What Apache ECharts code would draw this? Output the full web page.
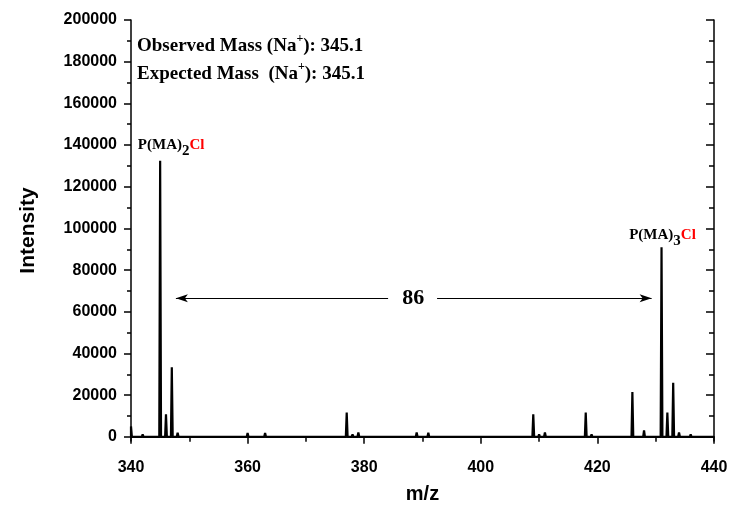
<!DOCTYPE html>
<html>
<head>
<meta charset="utf-8">
<script src="https://cdn.jsdelivr.net/npm/echarts@6/dist/echarts.min.js"></script>
<style>
  html, body { margin: 0; padding: 0; background: #fff; }
  #chart { width: 731px; height: 507px; }
</style>
</head>
<body>
<div id="chart"></div>
<script>
// Stick spectrum: peak positions (m/z) and their intensities
const peakMz = [340, 341, 342, 343, 345, 346, 347, 348, 349, 350, 352, 354, 355, 357, 360, 363, 366, 368, 370, 373,
  377, 378, 379, 380, 383, 386, 387, 389, 391, 393, 395, 397, 399, 402, 405, 407, 409, 410, 411, 413, 416, 418, 419,
  421, 424, 426, 427, 428, 429, 431, 432, 433, 434, 436, 438];
const peakIntensity = [5000, 800, 1200, 700, 132500, 10800, 33400, 2000, 500, 500, 300, 400, 400, 300, 1800, 1800, 400, 300, 400, 400,
  11600, 1200, 2100, 500, 300, 400, 400, 2100, 2000, 300, 400, 300, 400, 400, 400, 300, 10800, 1200, 2100, 700, 400, 11600, 1200,
  400, 400, 21500, 900, 3100, 600, 91000, 11600, 26000, 2100, 1200, 400];

// Axis ticks
const xTickLabels = [340, 360, 380, 400, 420, 440];
const yTickValues = [0, 20000, 40000, 60000, 80000, 100000, 120000, 140000, 160000, 180000, 200000];
const yMinorTickValues = [10000, 30000, 50000, 70000, 90000, 110000, 130000, 150000, 170000, 190000];

// Annotated peaks and the spacing between them
const labelledPeaks = [
  { mz: 345, n: '2' },
  { mz: 431, n: '3' }
];
const spacing = 86;
const arrowLevel = 66500;

const intensityOf = mz => peakIntensity[peakMz.indexOf(mz)];

// Build the stick trace: each peak rises from and returns to the baseline
const spectrum = [[340, 0]];
peakMz.forEach((mz, i) => {
  spectrum.push([mz - 0.15, 0], [mz, peakIntensity[i]], [mz + 0.15, 0]);
});
spectrum.push([440, 0]);

const sansBold = { fontFamily: 'Liberation Sans, Arial, sans-serif', fontWeight: 'bold', color: '#000' };
const serifBold = { fontFamily: 'Liberation Serif, Times New Roman, serif', fontWeight: 'bold' };
const axisColor = { color: '#000', width: 1.5 };
const plainNumber = v => String(v);

const peakRich = {
  m: Object.assign({ fontSize: 15, color: '#000', verticalAlign: 'top', lineHeight: 21 }, serifBold),
  s: Object.assign({ fontSize: 15, color: '#000', verticalAlign: 'bottom', lineHeight: 21 }, serifBold),
  r: Object.assign({ fontSize: 15, color: '#ff0000', verticalAlign: 'top', lineHeight: 21 }, serifBold)
};

const yBase = { type: 'value', min: -2000, max: 200000, splitLine: { show: false } };

const chart = echarts.init(document.getElementById('chart'));
chart.setOption({
  animation: false,
  backgroundColor: '#fff',
  grid: { left: 131, right: 17, top: 20, bottom: 66, containLabel: false, outerBoundsMode: 'none' },
  xAxis: [
    {
      type: 'value', min: 340, max: 440, interval: 20, position: 'bottom',
      name: 'm/z', nameLocation: 'middle', nameGap: 43,
      nameTextStyle: Object.assign({ fontSize: 20 }, sansBold),
      axisLine: { lineStyle: axisColor },
      axisTick: { inside: false, length: 7, lineStyle: axisColor },
      minorTick: { show: true, splitNumber: 2, length: 4, lineStyle: axisColor },
      axisLabel: Object.assign({ margin: 19, fontSize: 16, customValues: xTickLabels, formatter: plainNumber }, sansBold),
      splitLine: { show: false }
    },
    {
      type: 'value', min: 340, max: 440, interval: 20, position: 'top',
      axisLine: { lineStyle: axisColor },
      axisTick: { inside: true, length: 6, lineStyle: axisColor },
      minorTick: { show: true, splitNumber: 2, length: 5, lineStyle: axisColor },
      axisLabel: { show: false },
      splitLine: { show: false }
    }
  ],
  yAxis: [
    Object.assign({}, yBase, {
      position: 'left',
      name: 'Intensity', nameLocation: 'middle', nameGap: 92,
      nameTextStyle: Object.assign({ fontSize: 21 }, sansBold),
      axisLine: { lineStyle: axisColor },
      axisTick: { inside: false, length: 7, lineStyle: axisColor, customValues: yTickValues },
      axisLabel: Object.assign({ margin: 14, fontSize: 16, customValues: yTickValues, formatter: plainNumber }, sansBold)
    }),
    Object.assign({}, yBase, {
      position: 'left',
      axisLine: { show: false },
      axisTick: { inside: false, length: 4, lineStyle: axisColor, customValues: yMinorTickValues },
      axisLabel: { show: false }
    }),
    Object.assign({}, yBase, {
      position: 'right',
      axisLine: { lineStyle: axisColor },
      axisTick: { inside: true, length: 8, lineStyle: axisColor, customValues: yTickValues },
      axisLabel: { show: false }
    }),
    Object.assign({}, yBase, {
      position: 'right',
      axisLine: { show: false },
      axisTick: { inside: true, length: 5, lineStyle: axisColor, customValues: yMinorTickValues },
      axisLabel: { show: false }
    })
  ],
  series: [
    {
      type: 'line',
      xAxisIndex: 0,
      yAxisIndex: 0,
      data: spectrum,
      showSymbol: false,
      clip: true,
      lineStyle: { color: '#000', width: 2.2 },
      silent: true,
      markPoint: {
        silent: true,
        symbol: 'circle',
        symbolSize: 0,
        data: labelledPeaks.map((p, i) => ({
          coord: [p.mz, intensityOf(p.mz)],
          label: {
            show: true,
            position: 'top',
            distance: 2,
            offset: i === 0 ? [11, 0] : [1, 3],
            formatter: '{m|P(MA)}{s|' + p.n + '}{r|Cl}',
            rich: peakRich
          }
        })).concat([{
          coord: [388.4, arrowLevel],
          label: Object.assign({
            show: true, position: 'inside', formatter: String(spacing),
            fontSize: 22, color: '#000'
          }, serifBold)
        }])
      },
      markLine: {
        silent: true,
        symbolSize: [6, 12],
        lineStyle: { color: '#000', width: 1, type: 'solid' },
        label: { show: false },
        data: [
          [{ coord: [347.7, arrowLevel], symbol: 'arrow' },
           { coord: [384.1, arrowLevel], symbol: 'none' }],
          [{ coord: [392.5, arrowLevel], symbol: 'none' },
           { coord: [429.3, arrowLevel], symbol: 'arrow' }]
        ]
      }
    }
  ],
  graphic: [
    {
      type: 'text', left: 137, top: 33,
      style: {
        text: '{b|Observed Mass (Na}{p|+}{b|): 345.1}',
        rich: {
          b: Object.assign({ fontSize: 19, fill: '#000', verticalAlign: 'bottom', lineHeight: 23 }, serifBold),
          p: Object.assign({ fontSize: 12, fill: '#000', verticalAlign: 'top', lineHeight: 23 }, serifBold)
        }
      }
    },
    {
      type: 'text', left: 137, top: 61,
      style: {
        text: '{b|Expected Mass  (Na}{p|+}{b|): 345.1}',
        rich: {
          b: Object.assign({ fontSize: 19, fill: '#000', verticalAlign: 'bottom', lineHeight: 23 }, serifBold),
          p: Object.assign({ fontSize: 12, fill: '#000', verticalAlign: 'top', lineHeight: 23 }, serifBold)
        }
      }
    }
  ]
});
</script>
</body>
</html>
